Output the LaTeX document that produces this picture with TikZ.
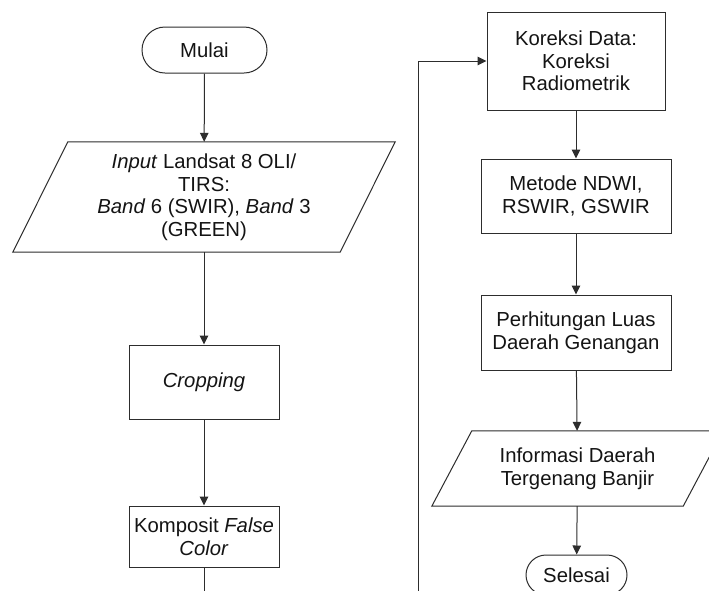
\documentclass[tikz,border=0pt]{standalone}
\usepackage{fontspec}
\setmainfont{Liberation Sans}
\usetikzlibrary{arrows.meta,calc}
\definecolor{linecol}{RGB}{45,45,45}
\definecolor{txtcol}{RGB}{20,20,20}
\tikzset{
  every node/.style={font=\fontsize{20.3}{22.5}\selectfont, text=txtcol, align=center, inner sep=0pt},
  procbox/.style={draw=linecol, line width=1pt, fill=white},
  termbox/.style={draw=linecol, line width=1pt, fill=white},
  iobox/.style={},
  conn/.style={draw=linecol, line width=1pt},
  arr/.style={conn, -{Triangle[length=9pt,width=8.5pt]}},
}
\begin{document}
\begin{tikzpicture}[x=1pt,y=-1pt]
\useasboundingbox (0,0) rectangle (709,590);
\clip (0,0) rectangle (709,590);
\fill[white] (0,0) rectangle (709,590);

% left column
\node[termbox, minimum width=125pt, minimum height=46pt, rounded corners=23pt] (mulai) at (204.5,50) {Mulai};
\node[iobox, minimum width=382pt, minimum height=110pt] (inp) at (204,197) {};
\draw[conn, fill=white] ([xshift=55pt]inp.north west) -- (inp.north east) -- ([xshift=-55pt]inp.south east) -- (inp.south west) -- cycle;
\node at (inp.center) {\textit{Input} Landsat 8 OLI/\\TIRS:\\\textit{Band} 6 (SWIR), \textit{Band} 3\\(GREEN)};
\node[procbox, minimum width=150pt, minimum height=74pt] (crop) at (204,382) {\textit{Cropping}};
\node[procbox, minimum width=150pt, minimum height=61pt] (komp) at (204,536.5) {Komposit \textit{False}\\\textit{Color}};
\coordinate (kend) at (204,600);

% right column
\node[procbox, minimum width=178pt, minimum height=98pt] (kor) at (576,61) {Koreksi Data:\\Koreksi\\Radiometrik};
\node[procbox, minimum width=190pt, minimum height=74pt] (met) at (576,196) {Metode NDWI,\\RSWIR, GSWIR};
\node[procbox, minimum width=190pt, minimum height=75pt] (per) at (576,332.5) {Perhitungan Luas\\Daerah Genangan};
\node[iobox, minimum width=291pt, minimum height=75pt] (info) at (577.5,468.5) {};
\draw[conn, fill=white] ([xshift=40pt]info.north west) -- (info.north east) -- ([xshift=-40pt]info.south east) -- (info.south west) -- cycle;
\node at (info.center) {Informasi Daerah\\Tergenang Banjir};
\node[termbox, minimum width=101pt, minimum height=40pt, rounded corners=20pt] (sel) at (576.5,575) {Selesai};
\coordinate (loopstart) at (418,600);

% connectors
\draw[arr] (mulai) -- (inp);
\draw[arr] (inp) -- (crop);
\draw[arr] (crop) -- (komp);
\draw[conn] (komp) -- (kend);
\draw[arr] (loopstart) |- (kor.west);
\draw[arr] (kor) -- (met);
\draw[arr] (met) -- (per);
\draw[arr] (per) -- (info);
\draw[arr] (info) -- (sel);
\end{tikzpicture}
\end{document}
